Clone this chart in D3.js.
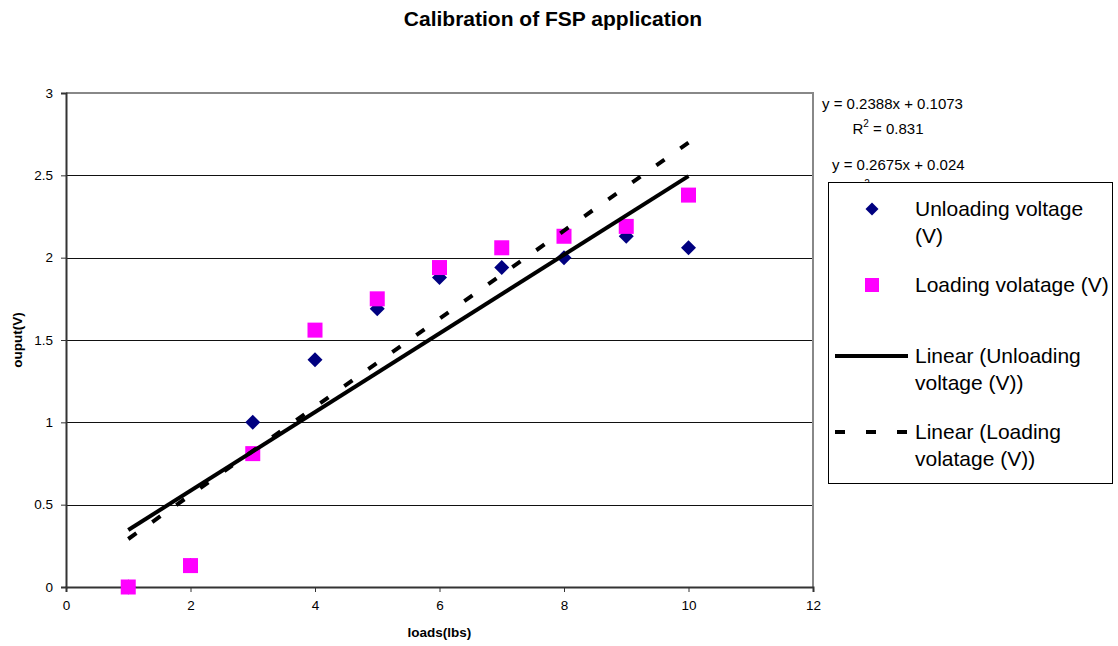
<!DOCTYPE html>
<html><head><meta charset="utf-8">
<script src="https://cdn.jsdelivr.net/npm/d3@7"></script>
<style>body{margin:0;background:#fff}svg{display:block}text{font-family:"Liberation Sans",Arial,sans-serif}</style>
</head><body>
<svg id="chart" width="1118" height="646"></svg>
<script>
const loads = [1, 2, 3, 4, 5, 6, 7, 8, 9, 10];
const unloadingVoltage = [0.00, 0.13, 1.00, 1.38, 1.69, 1.88, 1.94, 2.00, 2.13, 2.06];
const loadingVoltage = [0.00, 0.13, 0.81, 1.56, 1.75, 1.94, 2.06, 2.13, 2.19, 2.38];
const xTicks = [0, 2, 4, 6, 8, 10, 12];
const yTicks = [0, 0.5, 1, 1.5, 2, 2.5, 3];
const unloadingFit = [0.2388, 0.1073]; // slope, intercept
const loadingFit = [0.2675, 0.024];
const unloadingR2 = "0.831";
const loadingR2 = "0.8652";

const svg = d3.select("#chart");
const L = 66, R = 813, T = 93, B = 587;
const x = d3.scaleLinear().domain([0, 12]).range([L, R]);
const y = d3.scaleLinear().domain([0, 3]).range([B, T]);

// title
svg.append("text").attr("x", 553).attr("y", 26).attr("text-anchor", "middle")
  .attr("font-weight", "bold").attr("font-size", 21).text("Calibration of FSP application");

// gridlines
svg.append("g").selectAll("line").data(yTicks.filter(d => d > 0 && d < 3)).join("line")
  .attr("x1", L).attr("x2", R).attr("y1", d => Math.round(y(d)) + 0.5).attr("y2", d => Math.round(y(d)) + 0.5)
  .attr("stroke", "#111").attr("stroke-width", 1);

// top & right border
svg.append("path").attr("d", `M${L},${T}H${R}V${B}`).attr("fill", "none").attr("stroke", "#888").attr("stroke-width", 2);

// axes
const xAxis = d3.axisBottom(x).tickValues(xTicks).tickSize(5).tickPadding(8).tickFormat(d3.format("d"));
const gx = svg.append("g").attr("transform", `translate(0,${B})`).call(xAxis);
const yAxis = d3.axisLeft(y).tickValues(yTicks).tickSize(5).tickPadding(8).tickFormat(d => d3.format("")(d));
const gy = svg.append("g").attr("transform", `translate(${L},0)`).call(yAxis);
[gx, gy].forEach(g => {
  g.select(".domain").attr("stroke", "#333").attr("stroke-width", 2);
  g.selectAll(".tick line").attr("stroke", "#333").attr("stroke-width", 1);
  g.selectAll(".tick text").attr("font-size", 13.5).attr("font-family", "Liberation Sans, Arial, sans-serif").attr("fill", "#000");
});

// axis titles
svg.append("text").attr("x", x(6)).attr("y", 637).attr("text-anchor", "middle")
  .attr("font-weight", "bold").attr("font-size", 13.5).text("loads(lbs)");
svg.append("text").attr("transform", `translate(22,${(T + B) / 2}) rotate(-90)`).attr("text-anchor", "middle")
  .attr("font-weight", "bold").attr("font-size", 13.5).text("ouput(V)");

// markers
const diamond = s => `M0,${-s}L${s},0L0,${s}L${-s},0Z`;
svg.append("g").selectAll("path").data(loads.map((d, i) => [d, unloadingVoltage[i]])).join("path")
  .attr("d", diamond(7.5)).attr("transform", d => `translate(${x(d[0])},${y(d[1])})`).attr("fill", "#000080");
svg.append("g").selectAll("rect").data(loads.map((d, i) => [d, loadingVoltage[i]])).join("rect")
  .attr("x", d => x(d[0]) - 7.5).attr("y", d => y(d[1]) - 7.5).attr("width", 15).attr("height", 15).attr("fill", "#ff00ff");

// trendlines
const x0 = d3.min(loads), x1 = d3.max(loads);
const fitLine = f => [[x0, f[0] * x0 + f[1]], [x1, f[0] * x1 + f[1]]];
const line = d3.line().x(d => x(d[0])).y(d => y(d[1]));
const dashPath = svg.append("path").attr("d", line(fitLine(loadingFit))).attr("stroke", "#000").attr("stroke-width", 4)
  .attr("fill", "none");
{
  const len = dashPath.node().getTotalLength();
  const dash = 10;
  const n = Math.round((len - dash) / 30);
  const gap = (len - dash) / n - dash;
  dashPath.attr("stroke-dasharray", `${dash},${gap}`);
}
svg.append("path").attr("d", line(fitLine(unloadingFit))).attr("stroke", "#000").attr("stroke-width", 4).attr("fill", "none");

// equations
const eq = svg.append("g").attr("font-size", 15);
eq.append("text").attr("x", 822).attr("y", 109).text(`y = ${unloadingFit[0]}x + ${unloadingFit[1]}`);
const r1 = eq.append("text").attr("x", 888).attr("y", 134).attr("text-anchor", "middle");
r1.append("tspan").text("R");
r1.append("tspan").attr("dy", -7).attr("font-size", 10).text("2");
r1.append("tspan").attr("dy", 7).text(` = ${unloadingR2}`);
eq.append("text").attr("x", 832).attr("y", 170).text(`y = ${loadingFit[0]}x + ${loadingFit[1]}`);
const r2 = eq.append("text").attr("x", 893).attr("y", 196).attr("text-anchor", "middle");
r2.append("tspan").text("R");
r2.append("tspan").attr("dy", -9).attr("font-size", 10).text("2");
r2.append("tspan").attr("dy", 9).text(` = ${loadingR2}`);

// legend
const lg = svg.append("g");
lg.append("rect").attr("x", 828.5).attr("y", 182.5).attr("width", 284).attr("height", 301)
  .attr("fill", "#fff").attr("stroke", "#000").attr("stroke-width", 1);
const legendItems = [
  {lines: ["Unloading voltage", "(V)"], cy: 209, type: "diamond"},
  {lines: ["Loading volatage (V)"], cy: 285, type: "square"},
  {lines: ["Linear (Unloading", "voltage (V))"], cy: 356, type: "solid"},
  {lines: ["Linear (Loading", "volatage (V))"], cy: 432, type: "dash"}
];
legendItems.forEach(it => {
  if (it.type === "diamond") lg.append("path").attr("d", diamond(6.5)).attr("transform", `translate(872,${it.cy})`).attr("fill", "#000080");
  if (it.type === "square") lg.append("rect").attr("x", 865).attr("y", it.cy - 7).attr("width", 14).attr("height", 14).attr("fill", "#ff00ff");
  if (it.type === "solid") lg.append("line").attr("x1", 835).attr("x2", 908).attr("y1", it.cy).attr("y2", it.cy).attr("stroke", "#000").attr("stroke-width", 4);
  if (it.type === "dash") lg.append("line").attr("x1", 835).attr("x2", 908).attr("y1", it.cy).attr("y2", it.cy).attr("stroke", "#000").attr("stroke-width", 4).attr("stroke-dasharray", "10,21");
  const t = lg.append("text").attr("x", 915).attr("y", it.cy + 7).attr("font-size", 21).attr("fill", "#000");
  it.lines.forEach((s, j) => t.append("tspan").attr("x", 915).attr("dy", j === 0 ? 0 : 27).text(s));
});
</script>
</body></html>
